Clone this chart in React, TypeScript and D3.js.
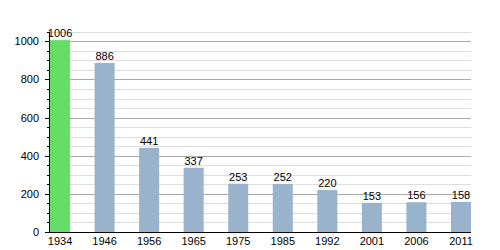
import React from "react";
import * as d3 from "d3";

const years = ["1934", "1946", "1956", "1965", "1975", "1985", "1992", "2001", "2006", "2011"];
const population = [1006, 886, 441, 337, 253, 252, 220, 153, 156, 158];
const barColors = ["#66dd66", "#99b3cc", "#99b3cc", "#99b3cc", "#99b3cc", "#99b3cc", "#99b3cc", "#99b3cc", "#99b3cc", "#99b3cc"];
const majorTicks = [0, 200, 400, 600, 800, 1000];

const W = 500;
const H = 250;
const left = 50;
const right = 471;
const bottom = 232;
const yMax = 1050;

export default function App() {
  const x = d3.scaleBand<string>().domain(years).range([left, right]).paddingInner(0.55).paddingOuter(0);
  const y = d3.scaleLinear().domain([0, 1000]).range([bottom, 41.3]);
  const minor = d3.range(0, yMax + 1, 50);
  const font = "'Liberation Sans', Arial, sans-serif";
  return (
    <svg width={W} height={H} style={{ position: "absolute", left: 0, top: 0 }} fontFamily={font} fontSize={11}>
      <rect width={W} height={H} fill="#fff" />
      {minor.map((v) => (
        <line key={"g" + v} x1={left} x2={right} y1={Math.round(y(v)) + 0.5} y2={Math.round(y(v)) + 0.5}
          stroke={v % 200 === 0 ? "#aaaaaa" : "#dddddd"} strokeWidth={1} />
      ))}
      {population.map((v, i) => (
        <rect key={"b" + i} x={x(years[i])!} y={y(v)} width={x.bandwidth()} height={bottom - y(v)} fill={barColors[i]} />
      ))}
      {population.map((v, i) => (
        <text key={"l" + i} x={x(years[i])! + x.bandwidth() / 2} y={y(v) - 3} textAnchor="middle" fill="#000">{v}</text>
      ))}
      <line x1={left - 0.5} x2={left - 0.5} y1={y(yMax)} y2={bottom + 1} stroke="#000" strokeWidth={1} />
      <line x1={left - 1} x2={right} y1={bottom + 0.5} y2={bottom + 0.5} stroke="#000" strokeWidth={1} />
      {minor.map((v) => (
        <line key={"t" + v} x1={v % 200 === 0 ? left - 5 : left - 3} x2={left} y1={Math.round(y(v)) + 0.5} y2={Math.round(y(v)) + 0.5} stroke="#000" strokeWidth={1} />
      ))}
      {majorTicks.map((v) => (
        <text key={"y" + v} x={39} y={y(v) + 4} textAnchor="end" fill="#000">{v}</text>
      ))}
      {years.map((yr) => (
        <text key={"x" + yr} x={x(yr)! + x.bandwidth() / 2} y={245} textAnchor="middle" fill="#000">{yr}</text>
      ))}
    </svg>
  );
}
